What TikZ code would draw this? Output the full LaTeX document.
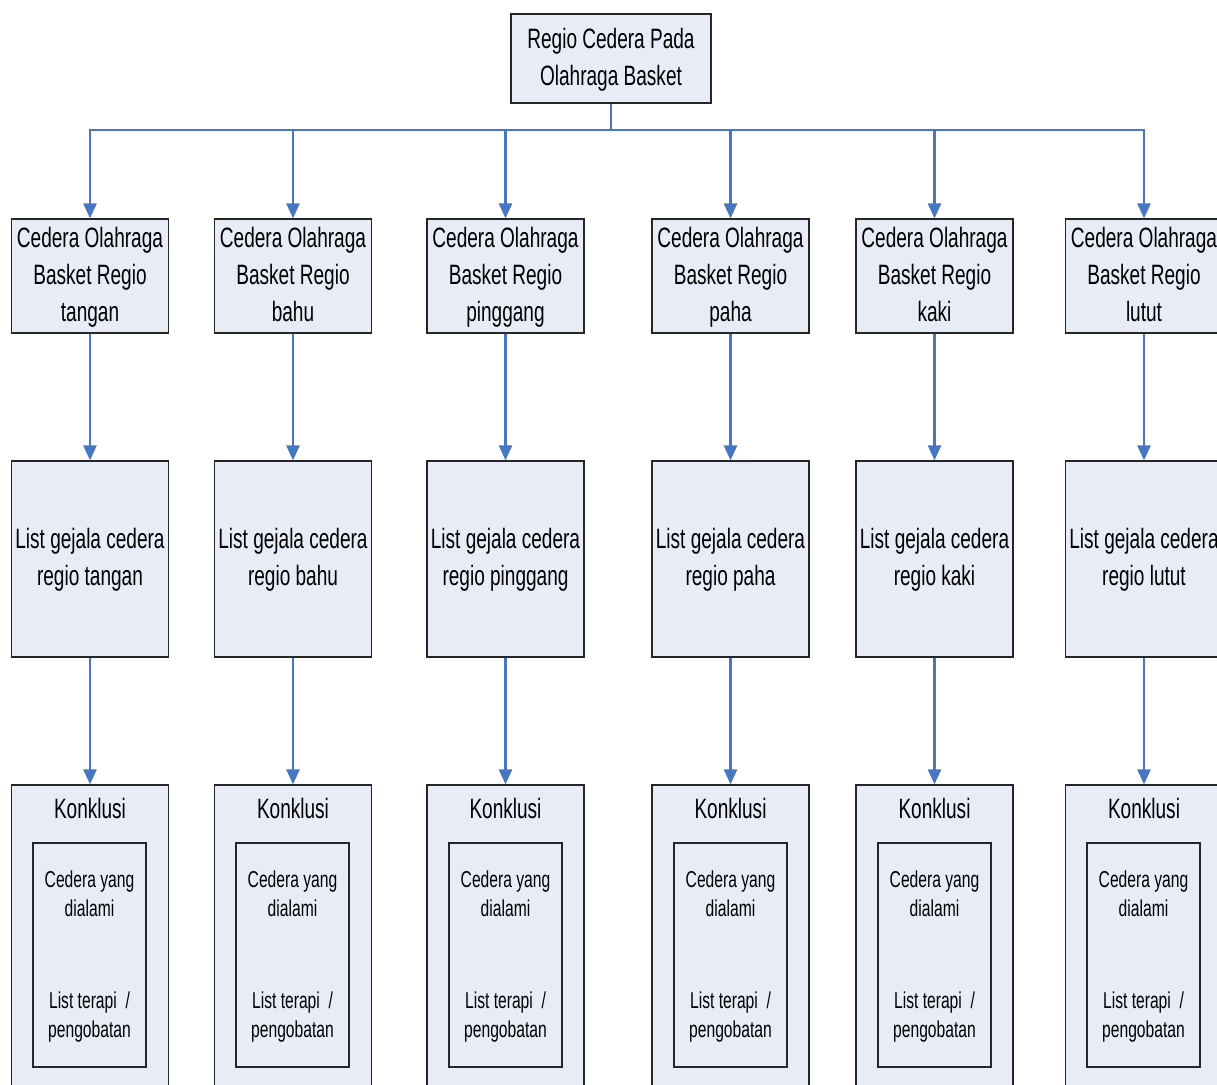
\documentclass[tikz,border=0pt]{standalone}
\usepackage{fontspec}
\setmainfont{Liberation Sans}[FakeStretch=0.68]
\usetikzlibrary{arrows.meta}
\definecolor{boxfill}{RGB}{231,236,247}
\definecolor{linkblue}{RGB}{71,118,194}

\begin{document}
\begin{tikzpicture}[x=1pt, y=-1pt,
    box/.style={draw=black!85, fill=boxfill, line width=1.2pt, align=center, inner sep=2pt, text depth=3.7pt, font=\fontsize{28}{37}\selectfont},
    region/.style={box, minimum width=157pt, minimum height=114pt},
    gejala/.style={box, minimum width=157pt, minimum height=196pt},
    konklusi/.style={box, minimum width=157pt, minimum height=326pt},
    judul/.style={inner sep=0pt, font=\fontsize{28}{37}\selectfont},
    isi/.style={box, minimum width=113pt, minimum height=224pt, text depth=2pt, font=\fontsize{23}{29.5}\selectfont},
    link/.style={draw=linkblue, line width=2.5pt},
    arr/.style={link, -{Triangle[width=13pt, length=15pt]}}]
    \path[use as bounding box] (0,0) rectangle (1217,1084);
    \clip (0,0) rectangle (1217,1084);
    \node[box, minimum width=200pt, minimum height=89pt] at (611,58.5) (root) {Regio Cedera Pada\\Olahraga Basket};
    \coordinate (bus) at (611,130);
    \node[region] at (90,276) (tangan) {Cedera Olahraga\\Basket Regio\\tangan};
    \node[region] at (293,276) (bahu) {Cedera Olahraga\\Basket Regio\\bahu};
    \node[region] at (505.5,276) (pinggang) {Cedera Olahraga\\Basket Regio\\pinggang};
    \node[region] at (730.5,276) (paha) {Cedera Olahraga\\Basket Regio\\paha};
    \node[region] at (934.5,276) (kaki) {Cedera Olahraga\\Basket Regio\\kaki};
    \node[region] at (1144,276) (lutut) {Cedera Olahraga\\Basket Regio\\lutut};
    \node[gejala] at (90,559) (gtangan) {List gejala cedera\\regio tangan};
    \node[gejala] at (293,559) (gbahu) {List gejala cedera\\regio bahu};
    \node[gejala] at (505.5,559) (gpinggang) {List gejala cedera\\regio pinggang};
    \node[gejala] at (730.5,559) (gpaha) {List gejala cedera\\regio paha};
    \node[gejala] at (934.5,559) (gkaki) {List gejala cedera\\regio kaki};
    \node[gejala] at (1144,559) (glutut) {List gejala cedera\\regio lutut};
    \node[konklusi] at (90,948) (ktangan) {};
    \node[konklusi] at (293,948) (kbahu) {};
    \node[konklusi] at (505.5,948) (kpinggang) {};
    \node[konklusi] at (730.5,948) (kpaha) {};
    \node[konklusi] at (934.5,948) (kkaki) {};
    \node[konklusi] at (1144,948) (klutut) {};
    \node[judul] at (90,808) {Konklusi};
    \node[judul] at (293,808) {Konklusi};
    \node[judul] at (505.5,808) {Konklusi};
    \node[judul] at (730.5,808) {Konklusi};
    \node[judul] at (934.5,808) {Konklusi};
    \node[judul] at (1144,808) {Konklusi};
    \node[isi] at (89.5,955) (itangan) {Cedera yang\\dialami\\[62pt]List terapi~~/\\pengobatan};
    \node[isi] at (292.5,955) (ibahu) {Cedera yang\\dialami\\[62pt]List terapi~~/\\pengobatan};
    \node[isi] at (505.5,955) (ipinggang) {Cedera yang\\dialami\\[62pt]List terapi~~/\\pengobatan};
    \node[isi] at (730.5,955) (ipaha) {Cedera yang\\dialami\\[62pt]List terapi~~/\\pengobatan};
    \node[isi] at (934.5,955) (ikaki) {Cedera yang\\dialami\\[62pt]List terapi~~/\\pengobatan};
    \node[isi] at (1143.5,955) (ilutut) {Cedera yang\\dialami\\[62pt]List terapi~~/\\pengobatan};
    \draw[link] (root.south) -- (bus);
    \draw[arr] (bus) -| (tangan.north);
    \draw[arr] (bus) -| (bahu.north);
    \draw[arr] (bus) -| (pinggang.north);
    \draw[arr] (bus) -| (paha.north);
    \draw[arr] (bus) -| (kaki.north);
    \draw[arr] (bus) -| (lutut.north);
    \draw[arr] (tangan) -- (gtangan);
    \draw[arr] (bahu) -- (gbahu);
    \draw[arr] (pinggang) -- (gpinggang);
    \draw[arr] (paha) -- (gpaha);
    \draw[arr] (kaki) -- (gkaki);
    \draw[arr] (lutut) -- (glutut);
    \draw[arr] (gtangan) -- (ktangan);
    \draw[arr] (gbahu) -- (kbahu);
    \draw[arr] (gpinggang) -- (kpinggang);
    \draw[arr] (gpaha) -- (kpaha);
    \draw[arr] (gkaki) -- (kkaki);
    \draw[arr] (glutut) -- (klutut);
\end{tikzpicture}
\end{document}
